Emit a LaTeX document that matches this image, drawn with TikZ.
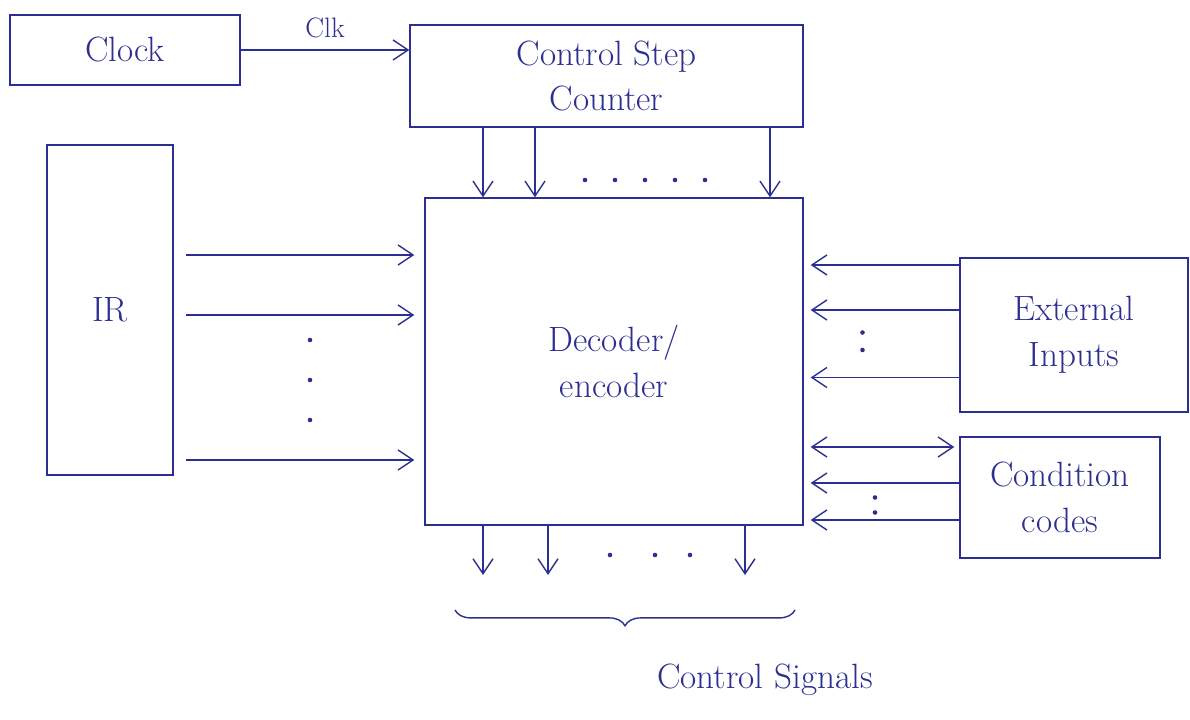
\documentclass[tikz,border=0pt]{standalone}
\usetikzlibrary{arrows.meta,decorations.pathreplacing}
\definecolor{ink}{HTML}{2B2F8F}

\begin{document}
\begin{tikzpicture}[
      every node/.style={font=\fontsize{20}{26}\selectfont, text=ink},
      blk/.style={draw=ink, thick, inner sep=0pt, align=center},
      sig/.style={draw=ink, thick, -{Straight Barb[length=3mm,width=4mm]}}]
    \useasboundingbox (0,0) rectangle (23.8,14.4);
    % ---- Row 1: clock and step counter
    \node[blk, minimum width=4.6cm, minimum height=1.4cm]  (clock) at (2.5,13.4) {Clock};
    \node[blk, minimum width=7.86cm, minimum height=2.04cm] (csc) at (12.13,12.88) {Control Step\\Counter};
    \draw[sig] (clock.east) -- (csc.west |- clock.east)
      node[midway, above=3pt, font=\fontsize{16}{20}\selectfont] {Clk};
    % ---- Row 2: IR, decoder and inputs
    \node[blk, minimum width=2.52cm, minimum height=6.6cm] (ir) at (2.2,8.2) {IR};
    \node[blk, minimum width=7.56cm, minimum height=6.54cm] (dec) at (12.28,7.17) {Decoder/\\encoder};
    \node[blk, minimum width=4.56cm, minimum height=3.08cm] (ext) at (21.48,7.7) {External\\Inputs};
    \node[blk, minimum width=4.0cm, minimum height=2.42cm] (cond) at (21.2,4.45) {Condition\\codes};
    \coordinate (sigline) at (0,2.9);
    % counter -> decoder
    \foreach \x in {9.66,10.7,15.4}
      \draw[sig] (\x,0 |- csc.south) -- (\x,0 |- dec.north);
    \foreach \x in {11.7,12.3,12.9,13.5,14.1}
      \fill[ink] (\x,10.8) circle (1.3pt);
    % IR -> decoder
    \foreach \y in {9.3,8.1,5.2}
      \draw[sig, shorten <=2.4mm, shorten >=2mm] (ir.east |- 0,\y) -- (dec.west |- 0,\y);
    \foreach \y in {7.6,6.8,6.0}
      \fill[ink] (6.2,\y) circle (1.3pt);
    % external inputs -> decoder
    \foreach \y in {9.1,8.2,6.85}
      \draw[sig, shorten >=1.4mm] (ext.west |- 0,\y) -- (dec.east |- 0,\y);
    \fill[ink] (17.25,7.75) circle (1.3pt);
    \fill[ink] (17.25,7.4) circle (1.3pt);
    % condition codes -> decoder
    \draw[sig, {Straight Barb[length=3mm,width=4mm]}-{Straight Barb[length=3mm,width=4mm]}, shorten >=1mm, shorten <=1.4mm]
      (dec.east |- 0,5.46) -- (cond.west |- 0,5.46);
    \foreach \y in {4.74,4.0}
      \draw[sig, shorten >=1.4mm] (cond.west |- 0,\y) -- (dec.east |- 0,\y);
    \fill[ink] (17.5,4.45) circle (1.3pt);
    \fill[ink] (17.5,4.15) circle (1.3pt);
    % ---- Row 3: control signals
    \foreach \x in {9.66,10.96,14.9}
      \draw[sig] (\x,0 |- dec.south) -- (\x,0 |- sigline);
    \foreach \x in {12.2,13.1,13.8}
      \fill[ink] (\x,3.3) circle (1.3pt);
    \draw[ink, thick, decorate, decoration={brace, mirror, amplitude=9pt}]
      (9.1,2.2) -- (15.9,2.2);
    \node (ctl) at (15.3,0.8) {Control Signals};
  \end{tikzpicture}
\end{document}
